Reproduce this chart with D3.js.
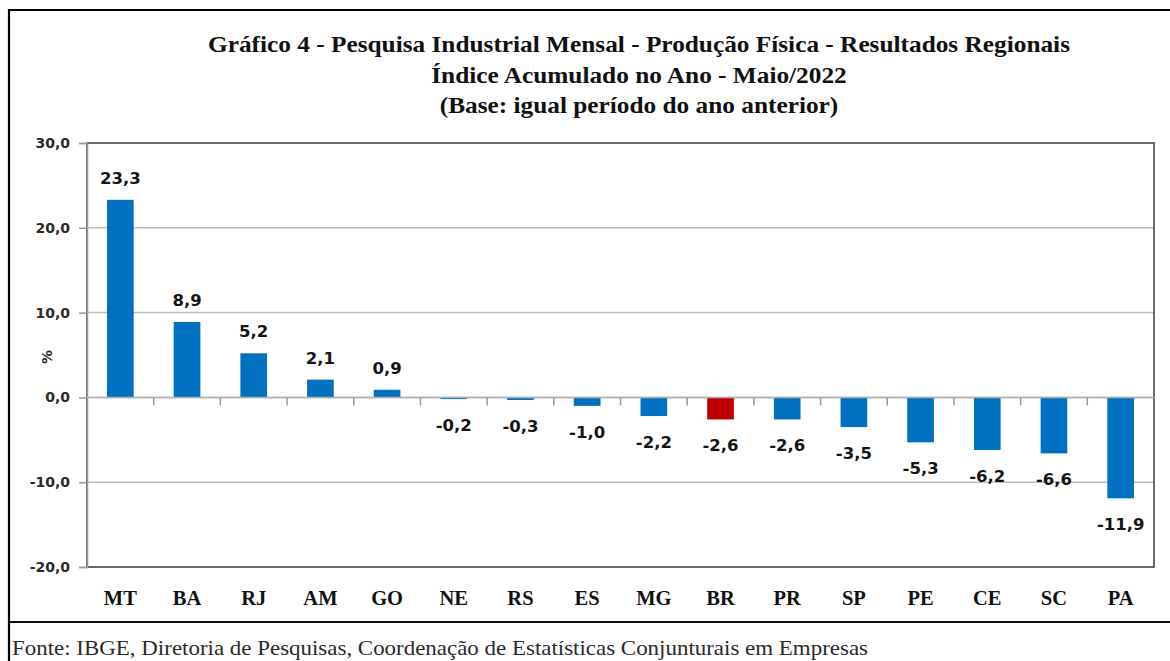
<!DOCTYPE html>
<html>
<head>
<meta charset="utf-8">
<script src="https://cdn.jsdelivr.net/npm/d3@7"></script>
<style>
  body { margin: 0; background: #ffffff; }
  svg { display: block; }
</style>
</head>
<body>
<div id="chart"></div>
<script>
/* ── data ─────────────────────────────────────────── */
const regions = ["MT", "BA", "RJ", "AM", "GO", "NE", "RS", "ES", "MG", "BR", "PR", "SP", "PE", "CE", "SC", "PA"];
const values  = [23.3, 8.9, 5.2, 2.1, 0.9, -0.2, -0.3, -1.0, -2.2, -2.6, -2.6, -3.5, -5.3, -6.2, -6.6, -11.9];
const yTicks  = [30, 20, 10, 0, -10, -20];
const highlight = "BR";

const titleLines = [
  "Gráfico 4 - Pesquisa Industrial Mensal - Produção Física - Resultados Regionais",
  "Índice Acumulado no Ano - Maio/2022",
  "(Base: igual período do ano anterior)"
];
const sourceText = "Fonte: IBGE, Diretoria de Pesquisas, Coordenação de Estatísticas Conjunturais em Empresas";

/* ── setup ────────────────────────────────────────── */
const W = 1170, H = 661;
const plot = { left: 87, right: 1154, top: 143, bottom: 567 };

const ptBR = d3.formatLocale({ decimal: ",", thousands: ".", grouping: [3], currency: ["R$", ""], minus: "-" });
const fmt = ptBR.format(".1f");

const svg = d3.select("#chart").append("svg")
  .attr("width", W).attr("height", H);

svg.append("rect").attr("width", W).attr("height", H).attr("fill", "#ffffff");

const x = d3.scaleBand()
  .domain(regions)
  .range([plot.left, plot.right])
  .paddingInner(0.6)
  .paddingOuter(0.3);

const y = d3.scaleLinear()
  .domain([-20, 30])
  .range([plot.bottom, plot.top]);

// squeeze text horizontally so it spans the target width (Cambria-ish look)
function squeeze(sel, target) {
  sel.attr("textLength", target).attr("lengthAdjust", "spacingAndGlyphs");
}

/* ── outer frame ──────────────────────────────────── */
svg.append("path")
  .attr("d", `M9,${H} L9,10 L${W},10`)
  .attr("fill", "none").attr("stroke", "#000").attr("stroke-width", 2.2);
svg.append("line")
  .attr("x1", 9).attr("x2", W).attr("y1", 622).attr("y2", 622)
  .attr("stroke", "#111").attr("stroke-width", 2.2);

/* ── title ────────────────────────────────────────── */
const titleG = svg.append("g")
  .attr("font-family", "'Liberation Serif', 'Times New Roman', serif")
  .attr("font-weight", "bold")
  .attr("font-size", 23)
  .attr("fill", "#111")
  .attr("text-anchor", "middle");

const titleText = titleG.selectAll("text")
  .data(titleLines)
  .join("text")
  .attr("x", 639)
  .attr("y", (d, i) => 52 + i * 30.5)
  .text(d => d);

const lens = titleText.nodes().map(n => n.getComputedTextLength());
const ratio = 862 / lens[0];
titleText.each(function (d, i) { squeeze(d3.select(this), lens[i] * ratio); });

/* ── gridlines ────────────────────────────────────── */
svg.append("g")
  .selectAll("line")
  .data(yTicks.filter(t => t !== 30 && t !== -20))
  .join("line")
  .attr("x1", plot.left).attr("x2", plot.right)
  .attr("y1", d => y(d)).attr("y2", d => y(d))
  .attr("stroke", "#bdbdbd").attr("stroke-width", 1.5);

/* ── plot area border ─────────────────────────────── */
svg.append("rect")
  .attr("x", plot.left).attr("y", plot.top)
  .attr("width", plot.right - plot.left)
  .attr("height", plot.bottom - plot.top)
  .attr("fill", "none")
  .attr("stroke", "#3a3a3a").attr("stroke-width", 1.5);

/* ── y axis ───────────────────────────────────────── */
const yAxis = d3.axisLeft(y)
  .tickValues(yTicks)
  .tickSize(8)
  .tickPadding(9)
  .tickFormat(fmt);

const yG = svg.append("g")
  .attr("transform", `translate(${plot.left},0)`)
  .call(yAxis);
yG.select(".domain").attr("stroke", "#9a9a9a").attr("stroke-width", 1.5);
yG.selectAll(".tick line").attr("stroke", "#9a9a9a").attr("stroke-width", 1.5);
yG.selectAll(".tick text")
  .attr("font-family", "'DejaVu Sans', Verdana, sans-serif")
  .attr("font-size", 14)
  .attr("font-weight", "bold")
  .attr("fill", "#2a2a2a");

svg.append("text")
  .attr("transform", "translate(52,357) rotate(-90)")
  .attr("text-anchor", "middle")
  .attr("font-family", "'DejaVu Sans', Verdana, sans-serif")
  .attr("font-size", 14)
  .attr("font-weight", "bold")
  .attr("fill", "#2a2a2a")
  .text("%");

/* ── bars ─────────────────────────────────────────── */
const data = regions.map((r, i) => ({ region: r, value: values[i] }));

svg.append("g")
  .selectAll("rect")
  .data(data)
  .join("rect")
  .attr("x", d => x(d.region))
  .attr("width", x.bandwidth())
  .attr("y", d => y(Math.max(0, d.value)))
  .attr("height", d => Math.abs(y(d.value) - y(0)))
  .attr("fill", d => d.region === highlight ? "#c00000" : "#0070c0");

/* ── zero axis with category ticks ────────────────── */
svg.append("line")
  .attr("x1", plot.left).attr("x2", plot.right)
  .attr("y1", y(0)).attr("y2", y(0))
  .attr("stroke", "#b0b0b0").attr("stroke-width", 1.5);

const step = x.step();
svg.append("g")
  .selectAll("line")
  .data(regions.slice(0, -1))
  .join("line")
  .attr("x1", d => x(d) + x.bandwidth() / 2 + step / 2)
  .attr("x2", d => x(d) + x.bandwidth() / 2 + step / 2)
  .attr("y1", y(0)).attr("y2", y(0) + 8)
  .attr("stroke", "#9a9a9a").attr("stroke-width", 1.5);

/* ── value labels ─────────────────────────────────── */
svg.append("g")
  .selectAll("text")
  .data(data)
  .join("text")
  .attr("x", d => x(d.region) + x.bandwidth() / 2)
  .attr("y", d => d.value >= 0 ? y(d.value) - 16 : y(d.value) + 32)
  .attr("text-anchor", "middle")
  .attr("font-family", "'DejaVu Sans', Verdana, sans-serif")
  .attr("font-size", 16.5)
  .attr("font-weight", "bold")
  .attr("fill", "#141414")
  .text(d => fmt(d.value));

/* ── category labels ──────────────────────────────── */
svg.append("g")
  .selectAll("text")
  .data(regions)
  .join("text")
  .attr("x", d => x(d) + x.bandwidth() / 2)
  .attr("y", 605)
  .attr("text-anchor", "middle")
  .attr("font-family", "'Liberation Serif', 'Times New Roman', serif")
  .attr("font-size", 20.5)
  .attr("font-weight", "bold")
  .attr("fill", "#111")
  .text(d => d);

/* ── source ───────────────────────────────────────── */
const src = svg.append("text")
  .attr("x", 12).attr("y", 655)
  .attr("font-family", "'Liberation Serif', 'Times New Roman', serif")
  .attr("font-size", 21)
  .attr("fill", "#2a2a2a")
  .text(sourceText);
squeeze(src, 856);
</script>
</body>
</html>
